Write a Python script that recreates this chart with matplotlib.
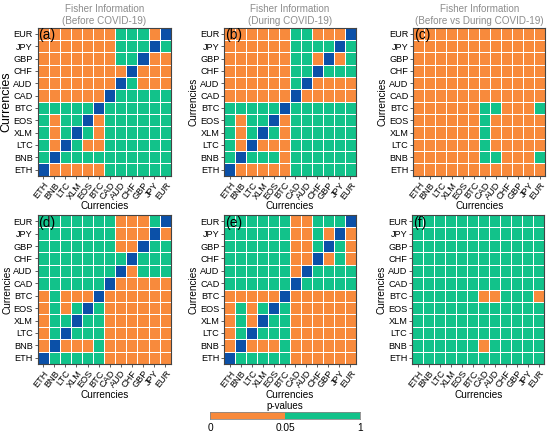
import matplotlib
matplotlib.use("Agg")
import matplotlib.pyplot as plt
import numpy as np
from matplotlib.colors import ListedColormap

plt.rcParams['font.family'] = ['Liberation Sans', 'DejaVu Sans']

currencies = ["ETH", "BNB", "LTC", "XLM", "EOS", "BTC", "CAD", "AUD", "CHF", "GBP", "JPY", "EUR"]
# rows listed top (EUR) to bottom (ETH); columns ETH..EUR
# s: p < 0.05, n: p >= 0.05, d: diagonal
panel_a = ["sssssssnnnsd",
           "sssssssnnndn",
           "sssssssnndss",
           "ssssssssdsss",
           "sssssssdnsss",
           "ssssssdnnnnn",
           "nnnnndnnnnnn",
           "nsnndsnnnnnn",
           "nsndnsnnnnnn",
           "nsdnssnnnnnn",
           "ndnnnnnnnnnn",
           "dsssssnnnnnn"]
panel_b = ["ssssssnnsssd",
           "ssssssnnnndn",
           "ssssssnnsdsn",
           "ssssssnndnnn",
           "ssssssndssss",
           "ssssssdsssss",
           "nnnnndnnnnnn",
           "nsnndsnnnnnn",
           "nsndnsnnnnnn",
           "nsdsssnnnnnn",
           "ndnnnsnnnnnn",
           "dsssssnnnnnn"]
panel_c = ["ssssssssssss",
           "ssssssssssss",
           "ssssssssssss",
           "ssssssssssss",
           "ssssssssssss",
           "ssssssssssss",
           "ssssssnnsssn",
           "ssssssnsssss",
           "ssssssnsssss",
           "ssssssnsssss",
           "ssssssnnsssn",
           "ssssssssssss"]
panel_d = ["nnnnnnnsssnd",
           "nnnnnnnsssds",
           "nnnnnnnssdnn",
           "nnnnnnnndnnn",
           "nnnnnnndsnnn",
           "nnnnnndsssss",
           "snsssdssssss",
           "snsndnssssss",
           "snndnnssssss",
           "sndnnnssssss",
           "sdsssnssssss",
           "dnnnnnssssss"]
panel_e = ["nnnnnnssnnnd",
           "nnnnnnssnsds",
           "nnnnnnssndns",
           "nnnnnnssdsns",
           "nnnnnnsdnnnn",
           "nnnnnndnnnnn",
           "sssssdssssss",
           "snsndnssssss",
           "snsdnnssssss",
           "sndnnnssssss",
           "sdsssnssssss",
           "dnnnnnssssss"]
panel_f = ["nnnnnnnnnnnn",
           "nnnnnnnnnnnn",
           "nnnnnnnnnnnn",
           "nnnnnnnnnnnn",
           "nnnnnnnnnnnn",
           "nnnnnnnnnnnn",
           "nnnnnnssnnns",
           "nnnnnnnnnnnn",
           "nnnnnnnnnnnn",
           "nnnnnnnnnnnn",
           "nnnnnnsnnnnn",
           "nnnnnnnnnnnn"]
panels = [panel_a, panel_b, panel_c, panel_d, panel_e, panel_f]
panel_tags = ["(a)", "(b)", "(c)", "(d)", "(e)", "(f)"]
titles = ["Fisher Information\n(Before COVID-19)",
          "Fisher Information\n(During COVID-19)",
          "Fisher Information\n(Before vs During COVID-19)"]
legend_ticks = ["0", "0.05", "1"]

ORANGE = "#F88A3C"
GREEN = "#12C28A"
BLUE = "#0B50A8"
cmap = ListedColormap([ORANGE, GREEN, BLUE])
code = {"s": 0, "n": 1, "d": 2}

W, H = 550, 436
fig = plt.figure(figsize=(W / 100, H / 100), dpi=100)

def rect(x0, x1, y0, y1):
    return [x0 / W, 1 - y1 / H, (x1 - x0) / W, (y1 - y0) / H]

boxes = [(37.7, 170.7, 27.7, 175.7),
         (224.3, 355.7, 27.7, 175.7),
         (413.3, 545.0, 27.7, 175.7),
         (37.7, 170.7, 215.0, 364.0),
         (224.3, 355.7, 215.0, 364.0),
         (412.3, 544.3, 215.0, 364.0)]

n = len(currencies)
for i, (mat, box) in enumerate(zip(panels, boxes)):
    ax = fig.add_axes(rect(*box))
    rows = [[code[ch] for ch in r] for r in mat][::-1]  # bottom row first
    arr = np.array(rows)
    ax.pcolormesh(np.arange(n + 1), np.arange(n + 1), arr, cmap=cmap,
                  vmin=-0.5, vmax=2.5, edgecolors="white", linewidth=0.7)
    ax.set_xlim(0, n)
    ax.set_ylim(0, n)
    ax.set_xticks(np.arange(n) + 0.5)
    ax.set_yticks(np.arange(n) + 0.5)
    ax.set_xticklabels(currencies, rotation=52, ha="right",
                       rotation_mode="anchor", fontsize=6.6)
    ax.set_yticklabels(currencies, fontsize=6.6)
    ax.tick_params(length=2, width=0.6, color="#444444", pad=1.5)
    for sp in ax.spines.values():
        sp.set_color("#444444")
        sp.set_linewidth(0.8)
    ax.set_xlabel("Currencies", fontsize=7.2, labelpad=0)
    ax.set_ylabel("Currencies", fontsize=9 if i == 0 else 7.2, labelpad=1)
    ax.text(0.005, 0.995, panel_tags[i], transform=ax.transAxes,
            ha="left", va="top", fontsize=10, color="black")
    if i < 3:
        ax.set_title(titles[i], fontsize=7.1, color="#8C8C8C", pad=3,
                     linespacing=1.2)

# legend colour bar
cax = fig.add_axes(rect(210, 360, 411.7, 419.3))
cax.imshow(np.array([[0, 1]]), cmap=ListedColormap([ORANGE, GREEN]),
           aspect="auto", extent=[0, 2, 0, 1])
cax.set_xlim(0, 2)
cax.set_yticks([])
cax.set_xticks([0, 1, 2])
cax.set_xticklabels(legend_ticks, fontsize=7.3)
cax.tick_params(length=0, pad=3)
for sp in cax.spines.values():
    sp.set_color("#888888")
    sp.set_linewidth(0.6)
cax.set_title("p-values", fontsize=7, pad=2)

fig.savefig("out.png", dpi=100)
